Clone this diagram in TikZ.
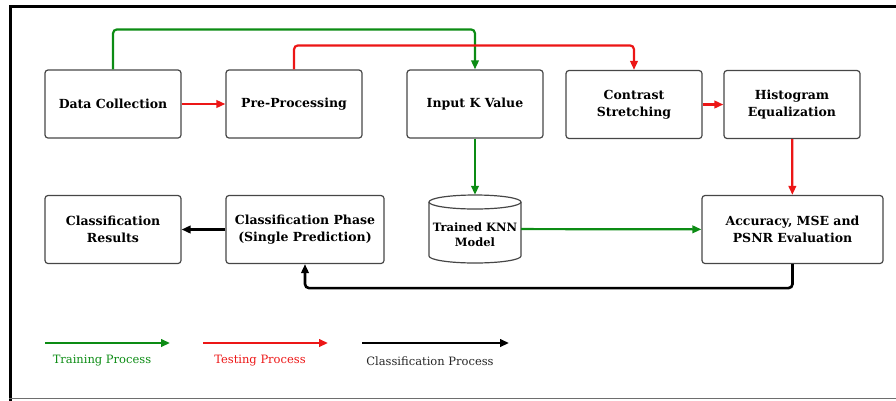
\documentclass[tikz,border=0pt]{standalone}
\usepackage{fontspec}
\setmainfont{DejaVu Serif}
\usetikzlibrary{arrows.meta}
\definecolor{tgreen}{RGB}{12,140,20}
\definecolor{tred}{RGB}{236,22,22}
\definecolor{boxgray}{RGB}{70,70,70}
\definecolor{framegray}{RGB}{110,110,110}
\begin{document}
\begin{tikzpicture}[x=1pt,y=-1pt,
  box/.style={draw=boxgray, line width=1.2pt, rounded corners=3pt, minimum width=136pt, minimum height=68pt, align=center, inner sep=0pt, font=\bfseries\fontsize{12.5}{16.5}\selectfont},
  flow/.style={line width=2.2pt, -{Triangle[length=9pt,width=7.5pt]}, rounded corners=4pt},
  legtext/.style={font=\fontsize{11.5}{14}\selectfont}]
\useasboundingbox (0,0) rectangle (896,400);
% frame
\draw[line width=3pt, line cap=rect] (10.5,399) -- (10.5,6.5) -- (896,6.5);
\draw[framegray, line width=1pt] (9,398.5) -- (896,398.5);
% boxes
\node[box] (dc) at (113,104) {Data Collection};
\node[box] (pp) at (294,104) {Pre-Processing};
\node[box] (ik) at (475,104) {Input K Value};
\node[box] (cs) at (634,104.5) {Contrast\\Stretching};
\node[box] (he) at (792,104.5) {Histogram\\Equalization};
\node[box] (cr) at (113,229.5) {Classification\\Results};
\node[box, minimum width=158pt] (cp) at (305,229.5) {Classification Phase\\(Single Prediction)};
\node[box, minimum width=181pt] (acc) at (792.5,229.5) {Accuracy, MSE and\\PSNR Evaluation};
% cylinder
\node[minimum width=92pt, minimum height=68pt, inner sep=0pt] (knn) at (475,229) {};
\draw[boxgray, line width=1.2pt, fill=white]
  (429,202) -- (429,256) arc[start angle=180, end angle=360, x radius=46pt, y radius=7pt] -- (521,202);
\draw[boxgray, line width=1.2pt] (475,202) ellipse[x radius=46pt, y radius=7pt];
\node[align=center, font=\bfseries\fontsize{11.5}{15}\selectfont] at (475,235) {Trained KNN\\Model};
% connectors
\draw[flow, tgreen] (dc.north) -- ++(0,-40) -| (ik.north);
\draw[flow, tred] (pp.north) -- ++(0,-24) -| (cs.north);
\draw[flow, tred] (dc) -- (pp);
\draw[flow, tred] (cs) -- (he);
\draw[flow, tgreen] (ik) -- (knn);
\draw[flow, tred] (he) -- (acc);
\draw[flow, tgreen] (knn) -- (acc);
\draw[flow, black, line width=2.6pt] (acc.south) -- ++(0,24) -| (cp.south);
\draw[flow, black, line width=2.6pt] (cp) -- (cr);
% legend
\coordinate (g1) at (45,343); \coordinate (g2) at (170,343);
\coordinate (r1) at (203,343); \coordinate (r2) at (328,343);
\coordinate (b1) at (362,343); \coordinate (b2) at (509,343);
\draw[flow, tgreen] (g1) -- (g2);
\draw[flow, tred] (r1) -- (r2);
\draw[flow, black] (b1) -- (b2);
\node[legtext, text=tgreen] (lt1) at (102,361) {Training Process};
\node[legtext, text=tred] (lt2) at (260,361) {Testing Process};
\node[legtext, text=black!85] (lt3) at (430,361) {Classification Process};
\end{tikzpicture}
\end{document}
